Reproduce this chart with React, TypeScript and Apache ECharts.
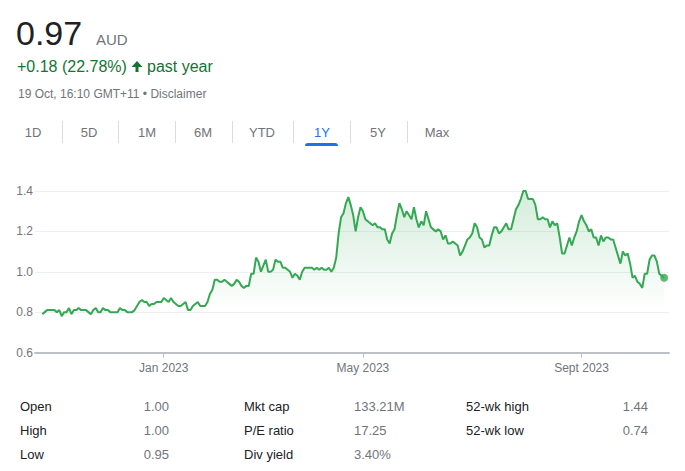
import React, { useEffect, useRef } from "react";
import * as echarts from "echarts";

// Daily closing prices (AUD), one year of trading days
const prices: number[] = [
  0.79, 0.80, 0.81, 0.81, 0.81, 0.81, 0.80, 0.81, 0.78, 0.80,
  0.80, 0.82, 0.79, 0.81, 0.81, 0.82, 0.81, 0.81, 0.81, 0.80,
  0.79, 0.81, 0.82, 0.80, 0.80, 0.82, 0.81, 0.81, 0.80, 0.80,
  0.80, 0.80, 0.82, 0.81, 0.81, 0.80, 0.80, 0.80, 0.81, 0.83,
  0.85, 0.86, 0.85, 0.85, 0.83, 0.84, 0.84, 0.85, 0.85, 0.85,
  0.87, 0.86, 0.85, 0.87, 0.85, 0.84, 0.83, 0.83, 0.84, 0.85,
  0.81, 0.81, 0.83, 0.84, 0.85, 0.83, 0.83, 0.83, 0.85, 0.89,
  0.91, 0.96, 0.96, 0.95, 0.95, 0.96, 0.95, 0.94, 0.93, 0.94,
  0.96, 0.95, 0.93, 0.92, 0.93, 0.93, 0.99, 0.99, 1.07, 1.05,
  1.00, 1.03, 1.06, 1.00, 1.00, 1.01, 1.06, 1.05, 1.05, 1.02,
  1.02, 1.01, 1.00, 0.97, 0.99, 0.98, 0.96, 1.00, 1.02, 1.02,
  1.02, 1.02, 1.01, 1.02, 1.01, 1.02, 1.01, 1.01, 1.02, 1.00,
  1.02, 1.07, 1.19, 1.27, 1.29, 1.34, 1.37, 1.33, 1.28, 1.20,
  1.27, 1.32, 1.30, 1.26, 1.25, 1.24, 1.23, 1.24, 1.22, 1.22,
  1.21, 1.21, 1.16, 1.14, 1.19, 1.21, 1.28, 1.34, 1.31, 1.27,
  1.30, 1.28, 1.26, 1.32, 1.26, 1.22, 1.25, 1.23, 1.30, 1.26,
  1.22, 1.21, 1.20, 1.21, 1.20, 1.16, 1.18, 1.14, 1.14, 1.15,
  1.14, 1.13, 1.08, 1.10, 1.13, 1.16, 1.17, 1.19, 1.24, 1.22,
  1.17, 1.16, 1.12, 1.13, 1.13, 1.18, 1.22, 1.22, 1.19, 1.20,
  1.22, 1.24, 1.21, 1.21, 1.26, 1.31, 1.33, 1.36, 1.40, 1.40,
  1.36, 1.36, 1.36, 1.33, 1.26, 1.26, 1.27, 1.26, 1.26, 1.22,
  1.25, 1.23, 1.24, 1.17, 1.09, 1.09, 1.13, 1.17, 1.13, 1.17,
  1.20, 1.25, 1.28, 1.25, 1.23, 1.20, 1.21, 1.17, 1.17, 1.13,
  1.18, 1.15, 1.17, 1.17, 1.16, 1.16, 1.12, 1.08, 1.04, 1.10,
  1.08, 1.09, 1.04, 0.97, 0.98, 0.95, 0.94, 0.92, 0.99, 0.99,
  1.06, 1.08, 1.08, 1.05, 0.99, 0.98, 0.97,
];

const tickIndices: number[] = [50, 132, 222];
const tickLabels: string[] = ["Jan 2023", "May 2023", "Sept 2023"];
const yTicks: number[] = [0.6, 0.8, 1.0, 1.2, 1.4];

const tabs: string[] = ["1D", "5D", "1M", "6M", "YTD", "1Y", "5Y", "Max"];
const tabCenters: number[] = [33, 89, 147, 203, 262, 322, 378, 437];
const tabSeparators: number[] = [62, 118, 175, 232, 293, 350, 407];
const activeTab = "1Y";

const statLabels1 = ["Open", "High", "Low"];
const statValues1 = ["1.00", "1.00", "0.95"];
const statLabels2 = ["Mkt cap", "P/E ratio", "Div yield"];
const statValues2 = ["133.21M", "17.25", "3.40%"];
const statLabels3 = ["52-wk high", "52-wk low"];
const statValues3 = ["1.44", "0.74"];

const PAD_START = 3;
const PAD_END = 2;

const FONT = "Arial, 'Liberation Sans', sans-serif";

export default function App() {
  const ref = useRef<HTMLDivElement>(null);
  useEffect(() => {
    if (!ref.current) return;
    const chart = echarts.init(ref.current, undefined, { renderer: "svg" });

    const total = PAD_START + prices.length + PAD_END;
    const categories = Array.from({ length: total }, (_, i) => String(i));
    const lineData = categories.map((_, i) => {
      const j = i - PAD_START;
      return j >= 0 && j < prices.length ? prices[j] : null;
    });
    const lastIdx = PAD_START + prices.length - 1;
    const tickMap = new Map<number, string>();
    tickIndices.forEach((t, i) => tickMap.set(t + PAD_START, tickLabels[i]));

    const graphics: any[] = [];
    // Header
    graphics.push({ type: "text", x: 16, y: 33, style: { text: "0.97", font: `34px ${FONT}`, fill: "#202124", verticalAlign: "middle" } });
    graphics.push({ type: "text", x: 96, y: 39.5, style: { text: "AUD", font: `15px ${FONT}`, fill: "#70757a", verticalAlign: "middle" } });
    graphics.push({ type: "text", x: 17, y: 66.5, style: { text: "+0.18 (22.78%)", font: `16px ${FONT}`, fill: "#137333", verticalAlign: "middle" } });
    graphics.push({ type: "polygon", shape: { points: [[131.5, 67], [137, 61], [142.5, 67], [138.5, 67], [138.5, 72], [135.5, 72], [135.5, 67]] }, style: { fill: "#137333" } });
    graphics.push({ type: "text", x: 147, y: 66.5, style: { text: "past year", font: `16px ${FONT}`, fill: "#137333", verticalAlign: "middle" } });
    graphics.push({ type: "text", x: 18, y: 93.5, style: { text: "19 Oct, 16:10 GMT+11 \u2022 Disclaimer", font: `12px ${FONT}`, fill: "#70757a", verticalAlign: "middle" } });

    // Tabs
    tabs.forEach((t, i) => {
      graphics.push({ type: "text", x: tabCenters[i], y: 132.5, style: { text: t, font: `13px ${FONT}`, fill: t === activeTab ? "#1a73e8" : "#70757a", align: "center", verticalAlign: "middle" } });
    });
    tabSeparators.forEach((x) => {
      graphics.push({ type: "line", shape: { x1: x + 0.5, y1: 121, x2: x + 0.5, y2: 143 }, style: { stroke: "#dadce0", lineWidth: 1 } });
    });
    graphics.push({ type: "rect", shape: { x: 305, y: 143, width: 33, height: 3, r: [3, 3, 0, 0] }, style: { fill: "#1a73e8" } });

    // Stats
    const rowY = [406, 430, 454];
    statLabels1.forEach((l, i) => {
      graphics.push({ type: "text", x: 20, y: rowY[i], style: { text: l, font: `13px ${FONT}`, fill: "#202124", verticalAlign: "middle" } });
      graphics.push({ type: "text", x: 169, y: rowY[i], style: { text: statValues1[i], font: `13px ${FONT}`, fill: "#70757a", align: "right", verticalAlign: "middle" } });
    });
    statLabels2.forEach((l, i) => {
      graphics.push({ type: "text", x: 244, y: rowY[i], style: { text: l, font: `13px ${FONT}`, fill: "#202124", verticalAlign: "middle" } });
      graphics.push({ type: "text", x: 354, y: rowY[i], style: { text: statValues2[i], font: `13px ${FONT}`, fill: "#70757a", verticalAlign: "middle" } });
    });
    statLabels3.forEach((l, i) => {
      graphics.push({ type: "text", x: 466, y: rowY[i], style: { text: l, font: `13px ${FONT}`, fill: "#202124", verticalAlign: "middle" } });
      graphics.push({ type: "text", x: 648, y: rowY[i], style: { text: statValues3[i], font: `13px ${FONT}`, fill: "#70757a", align: "right", verticalAlign: "middle" } });
    });

    chart.setOption({
      animation: false,
      grid: { left: 35, right: 16, top: 191, bottom: 118.5, containLabel: false },
      xAxis: {
        type: "category",
        data: categories,
        boundaryGap: false,
        axisLine: { show: true, lineStyle: { color: "#bdc1c6", width: 2 } },
        axisTick: {
          show: true,
          length: 5,
          interval: (i: number) => tickMap.has(i),
          lineStyle: { color: "#bdc1c6", width: 1 },
        },
        axisLabel: {
          interval: (i: number) => tickMap.has(i),
          formatter: (_v: string, i: number) => tickMap.get(i) ?? "",
          color: "#70757a",
          fontSize: 12,
          fontFamily: FONT,
          margin: 9,
        },
        splitLine: { show: false },
      },
      yAxis: {
        type: "value",
        min: yTicks[0],
        max: yTicks[yTicks.length - 1],
        interval: 0.2,
        axisLine: { show: false },
        axisTick: { show: false },
        axisLabel: {
          color: "#70757a",
          fontSize: 12,
          fontFamily: FONT,
          margin: 2,
          formatter: (v: number) => v.toFixed(1),
        },
        splitLine: { show: true, lineStyle: { color: "#eeeff1", width: 1 } },
      },
      series: [
        {
          type: "line",
          data: lineData,
          symbol: "none",
          clip: false,
          lineStyle: { color: "#34a853", width: 2 },
          areaStyle: {
            color: new echarts.graphic.LinearGradient(0, 0, 0, 1, [
              { offset: 0, color: "rgba(52,168,83,0.30)" },
              { offset: 0.75, color: "rgba(52,168,83,0.0)" },
              { offset: 1, color: "rgba(52,168,83,0)" },
            ]),
          },
          z: 3,
        },
        {
          type: "scatter",
          data: [[lastIdx, prices[prices.length - 1]]],
          symbol: "circle",
          symbolSize: 8,
          itemStyle: { color: "#34a853" },
          z: 4,
        },
      ],
      graphic: graphics,
    });
    return () => chart.dispose();
  }, []);

  return (
    <div
      ref={ref}
      style={{ position: "absolute", left: 0, top: 0, width: 685, height: 471, background: "#fff" }}
    />
  );
}
